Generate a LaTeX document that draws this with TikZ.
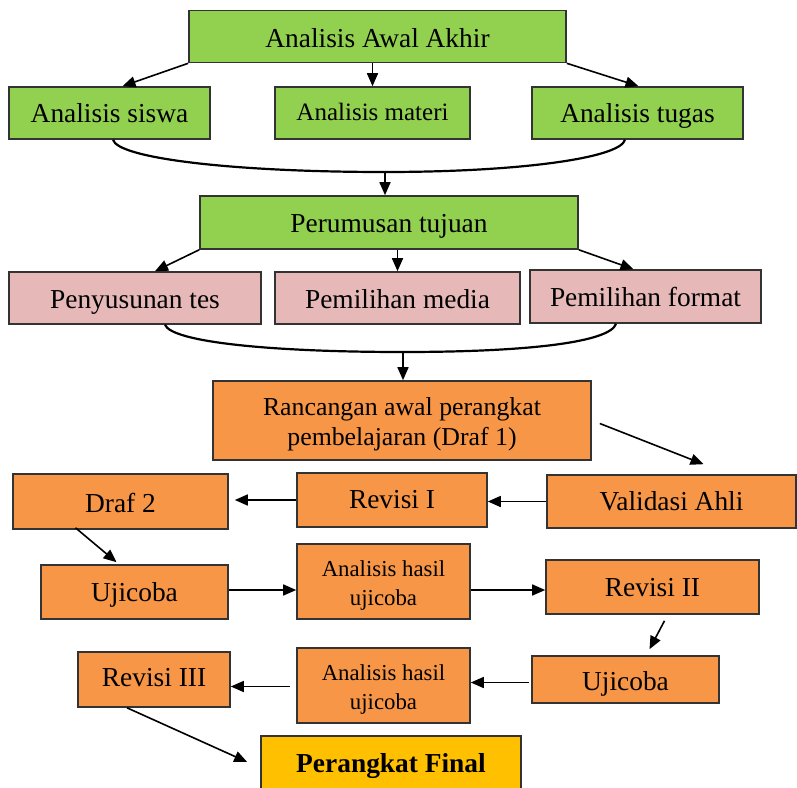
\documentclass[tikz,border=0pt]{standalone}
\usepackage{fontspec}
\setmainfont{Liberation Serif}
\usepackage{xcolor}
\usepackage{tikz}
\usetikzlibrary{arrows.meta,calc}

\definecolor{boxgreen}{HTML}{92D050}
\definecolor{boxpink}{HTML}{E6B9B8}
\definecolor{boxorange}{HTML}{F79646}
\definecolor{boxgold}{HTML}{FFC000}

% two lines, set a little lower in the box
\newcommand{\lowtext}[1]{\raisebox{-1.75pt}[\height][\depth]{\begin{tabular}{@{}c@{}}#1\end{tabular}}}

\tikzset{
  box/.style={draw=black!80, line width=0.8pt, inner sep=1pt,
    font=\fontsize{13.7}{16}\selectfont, text height=11.5pt, text depth=2pt},
  greenbox/.style={box, fill=boxgreen},
  pinkbox/.style={box, fill=boxpink},
  orangebox/.style={box, fill=boxorange},
  finalbox/.style={box, fill=boxgold},
  twoline/.style={text height={}, text depth={}},
  hasilbox/.style={orangebox, twoline, minimum width=86.5pt, minimum height=37.5pt,
    font=\fontsize{11.4}{14.5}\selectfont},
  arr/.style={-{Triangle[length=6.5pt,width=5.5pt]}, line width=0.8pt},
  bracket/.style={line width=1.1pt}
}

\begin{document}
\begin{tikzpicture}[x=0.5pt,y=-0.5pt]
  \useasboundingbox (0,0) rectangle (797,787);
  % Analisis
  \node[greenbox, minimum width=188.5pt, minimum height=26pt, text height=13pt] (awal) at (377.5,36.5) {Analisis Awal Akhir};
  \node[greenbox, minimum width=100.5pt, minimum height=26pt] (siswa) at (109.5,113) {Analisis siswa};
  \node[greenbox, minimum width=97.5pt, minimum height=26pt, font=\fontsize{12.5}{15}\selectfont, text height=10pt, text depth=3pt] (materi) at (372.5,113) {Analisis materi};
  \node[greenbox, minimum width=105.5pt, minimum height=26pt] (tugas) at (637.5,113) {Analisis tugas};
  \node[greenbox, minimum width=189pt, minimum height=26.5pt] (tujuan) at (389,222.5) {Perumusan tujuan};
  % Perancangan
  \node[pinkbox, minimum width=126pt, minimum height=26pt, text height=12pt] (tes) at (135,298) {Penyusunan tes};
  \node[pinkbox, minimum width=122.5pt, minimum height=26pt, text height=12pt] (media) at (397.5,298) {Pemilihan media};
  \node[pinkbox, minimum width=115.5pt, minimum height=26.5pt] (format) at (645.5,296.5) {Pemilihan format};
  \node[orangebox, twoline, minimum width=189pt, minimum height=39.5pt, font=\fontsize{12.9}{15}\selectfont] (rancangan) at (402,420.5) {\lowtext{Rancangan awal perangkat\\pembelajaran (Draf 1)}};
  % Pengembangan
  \node[orangebox, minimum width=107.5pt, minimum height=27.5pt, text height=12.5pt] (draf) at (120.5,501.5) {Draf 2};
  \node[orangebox, minimum width=95pt, minimum height=27pt, text height=10pt] (revisiA) at (392,500) {Revisi I};
  \node[orangebox, minimum width=124.5pt, minimum height=26.5pt, text height=10.5pt] (validasi) at (671.5,501.5) {Validasi Ahli};
  \node[orangebox, minimum width=93.5pt, minimum height=27pt] (ujicobaA) at (134.5,592) {Ujicoba};
  \node[hasilbox] (hasilA) at (383.5,581.5) {\lowtext{Analisis hasil\\ujicoba}};
  \node[orangebox, minimum width=106.5pt, minimum height=27pt, text height=11pt] (revisiB) at (652.5,587) {Revisi II};
  \node[orangebox, minimum width=76pt, minimum height=27.5pt, text height=9.5pt, text depth=3pt] (revisiC) at (154,679.5) {Revisi III};
  \node[hasilbox] (hasilB) at (383.5,685.5) {\lowtext{Analisis hasil\\ujicoba}};
  \node[orangebox, minimum width=93.5pt, minimum height=23.5pt, text height=12.5pt] (ujicobaB) at (625.5,679.5) {Ujicoba};
  \node[finalbox, minimum width=130pt, minimum height=28pt, text height=10pt] (final) at (391,764) {\textbf{Perangkat Final}};
  % Join points
  \coordinate (j1) at (385,172);
  \coordinate (j2) at (403,352);
  % Arrows, top part
  \draw[arr] (awal.south west) -- ([xshift=6.5pt]siswa.north);
  \draw[arr] (awal.south -| materi.north) -- (materi.north);
  \draw[arr] (awal.south east) -- ([xshift=0.5pt]tugas.north);
  \draw[bracket] ([xshift=1.75pt]siswa.south) .. controls (118,158) and (230,172) .. (j1)
    .. controls (520,172) and (620,158) .. ([xshift=-6.25pt]tugas.south);
  \draw[arr] (j1) -- (j1 |- tujuan.north);
  \draw[arr] (tujuan.south west) -- ([xshift=10pt]tes.north);
  \draw[arr] (tujuan.south -| media.north) -- (media.north);
  \draw[arr] (tujuan.south east) -- ([xshift=-6pt]format.north);
  \draw[bracket] ([xshift=15pt]tes.south) .. controls (172,342) and (270,352) .. (j2)
    .. controls (530,352) and (610,342) .. ([xshift=-14.75pt]format.south);
  \draw[arr] (j2) -- (j2 |- rancangan.north);
  % Arrows, lower part
  \draw[arr] ([xshift=4pt,yshift=-1.5pt]rancangan.east) -- ([xshift=16pt,yshift=5pt]validasi.north);
  \draw[arr] (validasi.west) -- (validasi.west -| revisiA.east);
  \draw[arr] (revisiA.west) -- ([xshift=3pt]revisiA.west -| draf.east);
  \draw[arr] ([xshift=-22.5pt,yshift=1pt]draf.south) -- ([xshift=-9pt,yshift=1pt]ujicobaA.north);
  \draw[arr] ([yshift=1pt]ujicobaA.east) -- ([yshift=1pt]ujicobaA.east -| hasilA.west);
  \draw[arr] ([yshift=1pt]ujicobaA.east -| hasilA.east) -- ([yshift=1pt]ujicobaA.east -| revisiB.west);
  \draw[arr] ([xshift=6pt,yshift=-3pt]revisiB.south) -- ([xshift=12pt,yshift=3pt]ujicobaB.north);
  \draw[arr] ([xshift=-1pt,yshift=-1.5pt]ujicobaB.west) -- ([yshift=-1.5pt]ujicobaB.west -| hasilB.east);
  \draw[arr] ([xshift=-3pt,yshift=-0.5pt]hasilB.west) -- ([yshift=-0.5pt]hasilB.west -| revisiC.east);
  \draw[arr] ([xshift=-13.5pt]revisiC.south) -- ([xshift=-6.5pt,yshift=1pt]final.west);
\end{tikzpicture}
\end{document}
